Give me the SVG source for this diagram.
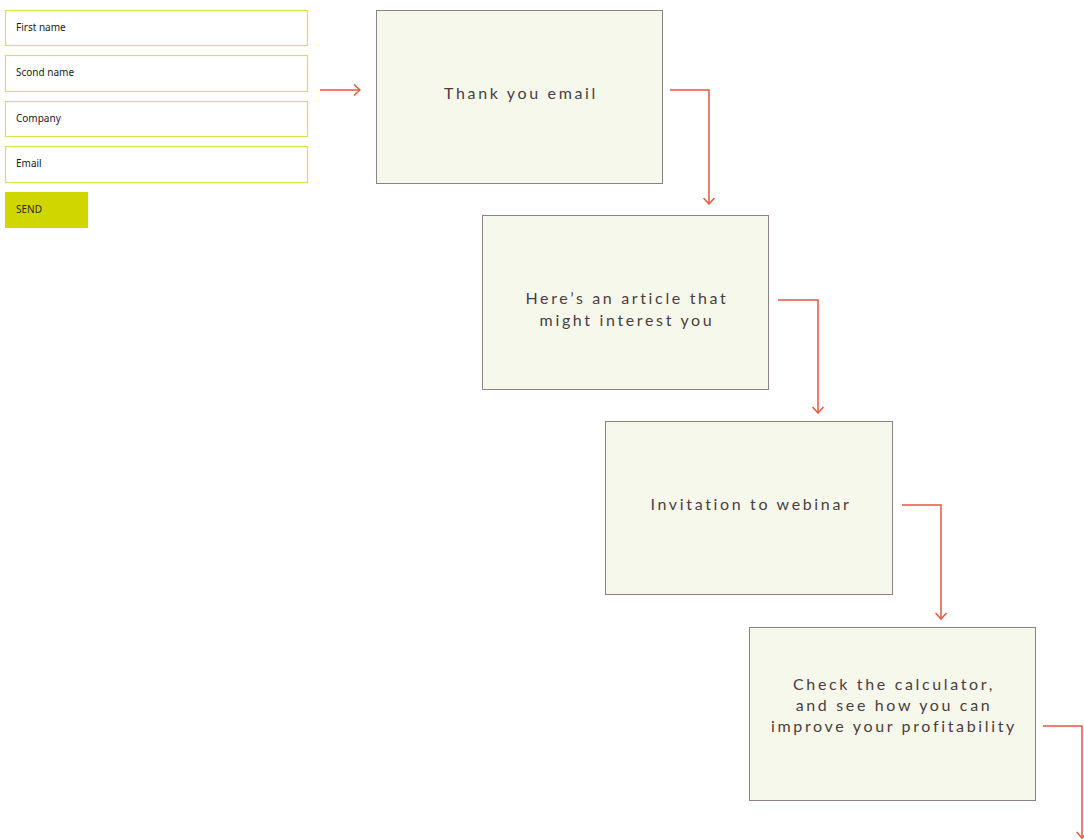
<svg xmlns="http://www.w3.org/2000/svg" width="1084" height="840" viewBox="0 0 1084 840">
  <defs>
    <style>
      .field { fill: #ffffff; stroke: #d8df55; stroke-width: 1.2; }
      .field-label { font-family: "Noto Sans", "Open Sans", sans-serif; font-size: 10px; fill: #1a1a1a; }
      .send { fill: #cfd600; }
      .send-label { font-family: "Noto Sans", "Open Sans", sans-serif; font-size: 10px; fill: #2a2a10; }
      .card { fill: #f7f8ec; stroke: #8c8282; stroke-width: 1; }
      .card-label { font-family: Lato, "Open Sans", sans-serif; font-size: 16px; fill: #4b3d3f; letter-spacing: 2.65px; text-anchor: middle; }
      .link { fill: none; stroke: #e8563d; stroke-width: 1.5; marker-end: url(#chevron); }
    </style>
    <marker id="chevron" viewBox="0 0 12 12" refX="11" refY="6" markerWidth="12" markerHeight="12" markerUnits="userSpaceOnUse" orient="auto">
      <path d="M5 0.5 L11 6 L5 11.5" fill="none" stroke="#e8563d" stroke-width="1.5"/>
    </marker>
  </defs>

  <!-- sign-up form -->
  <g id="form">
    <g id="field-first-name">
      <rect class="field" x="5.5" y="10.5" width="302" height="35"/>
      <text class="field-label" x="16" y="31">First name</text>
    </g>
    <g id="field-second-name">
      <rect class="field" x="5.5" y="55.5" width="302" height="36"/>
      <text class="field-label" x="16" y="76">Scond name</text>
    </g>
    <g id="field-company">
      <rect class="field" x="5.5" y="101.5" width="302" height="35"/>
      <text class="field-label" x="16" y="122">Company</text>
    </g>
    <g id="field-email">
      <rect class="field" x="5.5" y="146.5" width="302" height="36"/>
      <text class="field-label" x="16" y="167">Email</text>
    </g>
    <g id="send-button">
      <rect class="send" x="5" y="192" width="83" height="36"/>
      <text class="send-label" x="16" y="213">SEND</text>
    </g>
  </g>

  <!-- email sequence -->
  <g id="thank-you">
    <rect class="card" x="376.5" y="10.5" width="286" height="173"/>
    <text class="card-label" x="521" y="99">Thank you email</text>
  </g>
  <g id="article">
    <rect class="card" x="482.5" y="215.5" width="286" height="174"/>
    <text class="card-label" x="627" y="304">Here’s an article that</text>
    <text class="card-label" x="627" y="326">might interest you</text>
  </g>
  <g id="webinar">
    <rect class="card" x="605.5" y="421.5" width="287" height="173"/>
    <text class="card-label" x="751" y="510">Invitation to webinar</text>
  </g>
  <g id="calculator">
    <rect class="card" x="749.5" y="627.5" width="286" height="173"/>
    <text class="card-label" x="894" y="690">Check the calculator,</text>
    <text class="card-label" x="894" y="711">and see how you can</text>
    <text class="card-label" x="894" y="732">improve your profitability</text>
  </g>

  <!-- connectors -->
  <g id="connectors">
    <path class="link" d="M320 90 H360"/>
    <path class="link" d="M670 90 H709 V204"/>
    <path class="link" d="M778 300 H818 V413"/>
    <path class="link" d="M902 505 H941 V619"/>
    <path class="link" d="M1043 726 H1082 V838"/>
  </g>
</svg>
